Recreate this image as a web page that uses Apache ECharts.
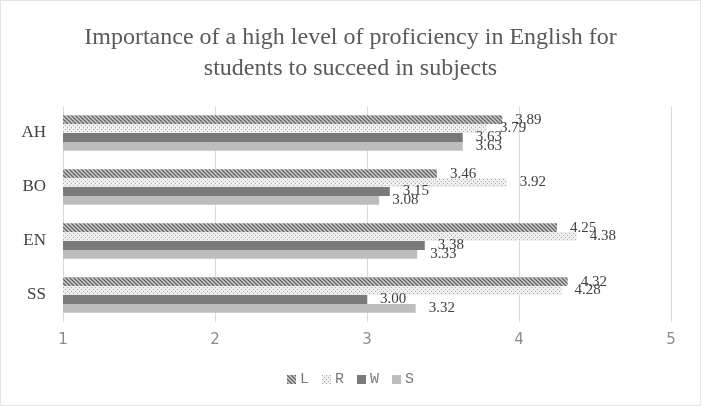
<!DOCTYPE html>
<html><head><meta charset="utf-8">
<script src="https://cdn.jsdelivr.net/npm/echarts@6/dist/echarts.min.js"></script>
<style>html,body{margin:0;padding:0;background:#fff}#c{width:701px;height:406px;box-sizing:border-box;border:1px solid #e4e4e4}</style>
</head><body><div id="c"></div>
<script>
const categories = ['AH', 'BO', 'EN', 'SS'];
const seriesNames = ['L', 'R', 'W', 'S'];
const valuesL = [3.89, 3.46, 4.25, 4.32];
const valuesR = [3.79, 3.92, 4.38, 4.28];
const valuesW = [3.63, 3.15, 3.38, 3.00];
const valuesS = [3.63, 3.08, 3.33, 3.32];
const xTicks = [1, 2, 3, 4, 5];

function hatch() {
  const c = document.createElement('canvas'); c.width = 4; c.height = 4;
  const g = c.getContext('2d');
  g.fillStyle = '#d0d0d0'; g.fillRect(0, 0, 4, 4);
  g.strokeStyle = '#666666'; g.lineWidth = 1.4;
  g.beginPath(); g.moveTo(-1, -1); g.lineTo(5, 5); g.moveTo(-1, 3); g.lineTo(1, 5); g.moveTo(3, -1); g.lineTo(5, 1); g.stroke();
  return c;
}
function dots() {
  const c = document.createElement('canvas'); c.width = 4; c.height = 4;
  const g = c.getContext('2d');
  g.fillStyle = '#efefef'; g.fillRect(0, 0, 4, 4);
  g.fillStyle = '#a8a8a8'; g.fillRect(0, 0, 1, 1); g.fillRect(2, 2, 1, 1);
  return c;
}
const fills = [
  { image: hatch(), repeat: 'repeat' },
  { image: dots(), repeat: 'repeat' },
  '#7a7a7a',
  '#bdbdbd'
];
const data = [valuesL, valuesR, valuesW, valuesS];

const chart = echarts.init(document.getElementById('c'));
chart.setOption({
  animation: false,
  title: {
    text: 'Importance of a high level of proficiency in English for\nstudents to succeed in subjects',
    left: 'center', top: 16,
    textStyle: { fontFamily: 'Liberation Serif', fontSize: 24, fontWeight: 'normal', color: '#595959', lineHeight: 31 }
  },
  legend: {
    bottom: 13, left: 'center', itemWidth: 9, itemHeight: 9, itemGap: 13,
    icon: 'rect',
    textStyle: { fontFamily: 'Liberation Mono', fontSize: 15, color: '#7a7a7a', padding: [0, 0, 0, -1] },
    data: seriesNames
  },
  grid: { left: 62, right: 29, top: 105, bottom: 83 },
  xAxis: {
    type: 'value', min: 1, max: 5, interval: 1,
    axisLine: { show: false }, axisTick: { show: false },
    splitLine: { lineStyle: { color: '#d9d9d9', width: 1 } },
    axisLabel: { fontFamily: 'DejaVu Sans', fontSize: 15, color: '#8c8c8c', margin: 11,
      formatter: v => xTicks.includes(v) ? String(v) : '' }
  },
  yAxis: {
    type: 'category', data: categories, inverse: true,
    axisLine: { show: false }, axisTick: { show: false },
    axisLabel: { fontFamily: 'Liberation Serif', fontSize: 17, color: '#404040', margin: 17 }
  },
  series: seriesNames.map((n, i) => ({
    name: n, type: 'bar', data: data[i],
    barGap: '0%', barCategoryGap: '34%',
    itemStyle: { color: fills[i] },
    label: { show: true, position: 'right', distance: 13,
      fontFamily: 'Liberation Serif', fontSize: 15, color: '#404040',
      formatter: p => p.value.toFixed(2) }
  }))
});
</script></body></html>
